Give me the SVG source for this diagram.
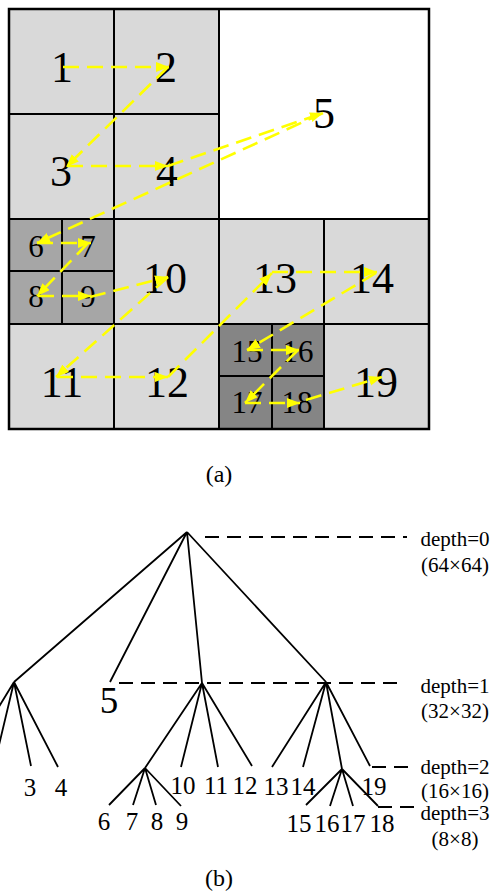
<svg xmlns="http://www.w3.org/2000/svg" width="493" height="893" viewBox="0 0 493 893">
<style>
.cell{stroke:#000;stroke-width:2}
.l{fill:#d9d9d9}
.m{fill:#a6a6a6}
.d{fill:#858585}
.w{fill:#fff}
text{font-family:"Liberation Serif","Times New Roman",serif;fill:#000;text-anchor:middle}
.big{font-size:44px}
.sm{font-size:31px}
.tl{font-size:25px}
.dep{font-size:21px}
.cap{font-size:24px}
.arr{stroke:#ffff00;stroke-width:2.6;stroke-dasharray:16 8;fill:none;marker-end:url(#ah)}
.edge{stroke:#000;stroke-width:1.8;fill:none}
.lvl{stroke:#000;stroke-width:1.8;stroke-dasharray:14 8;fill:none}
</style>
<defs>
<marker id="ah" markerUnits="userSpaceOnUse" markerWidth="14" markerHeight="12" refX="13" refY="5" orient="auto">
<path d="M0,0 L13,5 L0,10 z" fill="#ffff00"/>
</marker>
</defs>
<rect width="493" height="893" fill="#fff"/>
<g id="grid">
<g id="c1"><rect class="cell l" x="9" y="9" width="105" height="105"/><text class="big" x="62" y="82">1</text></g>
<g id="c2"><rect class="cell l" x="114" y="9" width="105" height="105"/><text class="big" x="166" y="82">2</text></g>
<g id="c3"><rect class="cell l" x="9" y="114" width="105" height="105"/><text class="big" x="61" y="186">3</text></g>
<g id="c4"><rect class="cell l" x="114" y="114" width="105" height="105"/><text class="big" x="167" y="186">4</text></g>
<g id="c5"><rect class="cell w" x="219" y="9" width="210" height="210"/><text class="big" x="324" y="128">5</text></g>
<g id="c6"><rect class="cell m" x="9" y="219" width="53" height="52"/><text class="sm" x="36" y="257">6</text></g>
<g id="c7"><rect class="cell m" x="62" y="219" width="52" height="52"/><text class="sm" x="88" y="257">7</text></g>
<g id="c8"><rect class="cell m" x="9" y="271" width="53" height="53"/><text class="sm" x="36" y="307">8</text></g>
<g id="c9"><rect class="cell m" x="62" y="271" width="52" height="53"/><text class="sm" x="88" y="307">9</text></g>
<g id="c10"><rect class="cell l" x="114" y="219" width="105" height="105"/><text class="big" x="165" y="293">10</text></g>
<g id="c11"><rect class="cell l" x="9" y="324" width="105" height="105"/><text class="big" x="62" y="397">11</text></g>
<g id="c12"><rect class="cell l" x="114" y="324" width="105" height="105"/><text class="big" x="167" y="397">12</text></g>
<g id="c13"><rect class="cell l" x="219" y="219" width="105" height="105"/><text class="big" x="275" y="293">13</text></g>
<g id="c14"><rect class="cell l" x="324" y="219" width="105" height="105"/><text class="big" x="372" y="293">14</text></g>
<g id="c15"><rect class="cell d" x="219" y="324" width="53" height="52"/><text class="sm" x="247" y="362">15</text></g>
<g id="c16"><rect class="cell d" x="272" y="324" width="52" height="52"/><text class="sm" x="298" y="362">16</text></g>
<g id="c17"><rect class="cell d" x="219" y="376" width="53" height="53"/><text class="sm" x="247" y="413">17</text></g>
<g id="c18"><rect class="cell d" x="272" y="376" width="52" height="53"/><text class="sm" x="297" y="413">18</text></g>
<g id="c19"><rect class="cell l" x="324" y="324" width="105" height="105"/><text class="big" x="376" y="397">19</text></g>
<rect x="9" y="9" width="420" height="420" fill="none" stroke="#000" stroke-width="2.5"/>
</g>
<g id="scan">
<line class="arr" x1="63" y1="67" x2="169" y2="67"/>
<line class="arr" x1="168" y1="67" x2="66" y2="167"/>
<line class="arr" x1="67" y1="166" x2="168" y2="166"/>
<line class="arr" x1="168" y1="166" x2="323" y2="113"/>
<line class="arr" x1="323" y1="113" x2="37" y2="243"/>
<line class="arr" x1="37" y1="243" x2="91" y2="243"/>
<line class="arr" x1="88" y1="243" x2="37" y2="296"/>
<line class="arr" x1="38" y1="296" x2="91" y2="296"/>
<line class="arr" x1="90" y1="297" x2="168" y2="277"/>
<line class="arr" x1="168" y1="277" x2="56" y2="377"/>
<line class="arr" x1="57" y1="377" x2="168" y2="377"/>
<line class="arr" x1="168" y1="377" x2="272" y2="273"/>
<line class="arr" x1="272" y1="272" x2="377" y2="272"/>
<line class="arr" x1="376" y1="273" x2="247" y2="350"/>
<line class="arr" x1="247" y1="350" x2="299" y2="350"/>
<line class="arr" x1="298" y1="350" x2="245" y2="403"/>
<line class="arr" x1="245" y1="403" x2="300" y2="403"/>
<line class="arr" x1="306" y1="400" x2="382" y2="377"/>
</g>
<text class="cap" x="219" y="482">(a)</text>
<g id="tree-edges">
<path class="edge" d="M187,532 L14,682 M187,532 L110,682 M187,532 L202,683 M187,532 L326,682"/>
<path class="edge" d="M14,682 L-37,766 M14,682 L-6,766 M14,682 L31,766 M14,682 L58,767"/>
<path class="edge" d="M202,683 L145,768 M202,683 L181,767 M202,683 L218,767 M202,683 L252,766"/>
<path class="edge" d="M145,768 L109,805 M145,768 L133,805 M145,768 L156,805 M145,768 L181,806"/>
<path class="edge" d="M326,682 L272,767 M326,682 L303,767 M326,682 L342,769 M326,682 L370,766"/>
<path class="edge" d="M342,769 L306,805 M342,769 L330,806 M342,769 L353,806 M342,769 L378,806"/>
</g>
<g id="levels">
<line class="lvl" x1="205" y1="537" x2="407" y2="537"/>
<line class="lvl" x1="119" y1="683" x2="400" y2="683"/>
<line class="lvl" x1="372" y1="767" x2="408" y2="767"/>
<line class="lvl" x1="378" y1="807" x2="415" y2="807"/>
</g>
<g id="tree-labels">
<text class="tl" x="30" y="796">3</text>
<text class="tl" x="61" y="796">4</text>
<text style="font-size:37px" x="109" y="713">5</text>
<text class="tl" x="183" y="794">10</text>
<text class="tl" x="216" y="794">11</text>
<text class="tl" x="245" y="794">12</text>
<text class="tl" x="276" y="795">13</text>
<text class="tl" x="303" y="795">14</text>
<text class="tl" x="374" y="795">19</text>
<text class="tl" x="104" y="830">6</text>
<text class="tl" x="132" y="830">7</text>
<text class="tl" x="157" y="830">8</text>
<text class="tl" x="182" y="830">9</text>
<text class="tl" x="299" y="832">15</text>
<text class="tl" x="327" y="832">16</text>
<text class="tl" x="353" y="832">17</text>
<text class="tl" x="382" y="832">18</text>
</g>
<g id="depth-labels">
<text class="dep" x="455" y="546">depth=0</text>
<text class="dep" x="455" y="572">(64×64)</text>
<text class="dep" x="455" y="693">depth=1</text>
<text class="dep" x="455" y="718">(32×32)</text>
<text class="dep" x="455" y="774">depth=2</text>
<text class="dep" x="455" y="798">(16×16)</text>
<text class="dep" x="455" y="820">depth=3</text>
<text class="dep" x="455" y="846">(8×8)</text>
</g>
<text class="cap" x="219" y="886">(b)</text>
</svg>
